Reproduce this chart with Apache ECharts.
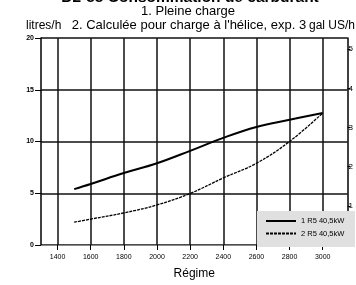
<!DOCTYPE html>
<html><head><meta charset="utf-8">
<script src="https://cdn.jsdelivr.net/npm/echarts@6/dist/echarts.min.js"></script>
<style>html,body{margin:0;padding:0;background:#fff}#c{width:356px;height:285px}</style>
</head><body><div id="c"></div>
<script>
const rpm = [1500, 1600, 1800, 2000, 2200, 2400, 2600, 2800, 3000];
const fullLoad = [5.4, 5.9, 6.95, 7.9, 9.1, 10.35, 11.4, 12.1, 12.75];
const propLoad = [2.2, 2.5, 3.1, 3.87, 4.98, 6.48, 7.9, 10.0, 12.75];
const seriesNames = ['1 R5 40,5kW', '2 R5 40,5kW'];
const xTicks = [1400, 1600, 1800, 2000, 2200, 2400, 2600, 2800, 3000];
const LPG = 3.785;
const font = 'Liberation Sans, Arial, sans-serif';
const chart = echarts.init(document.getElementById('c'), null, {renderer: 'canvas'});
chart.setOption({
  animation: false,
  grid: {left: 41, right: 1, top: 38, bottom: 37},
  graphic: [
    {type: 'text', x: 190, y: -10, style: {text: 'D2-55 Consommation de carburant', font: 'bold 15.5px ' + font, fill: '#000', align: 'center'}},
    {type: 'text', x: 188, y: 5, style: {text: '1. Pleine charge', font: '13px ' + font, fill: '#000', align: 'center'}},
    {type: 'text', x: 189, y: 19, style: {text: "2. Calculée pour charge à l'hélice, exp. 3", font: '13px ' + font, fill: '#000', align: 'center'}},
    {type: 'text', x: 26, y: 20, style: {text: 'litres/h', font: '12px ' + font, fill: '#000'}},
    {type: 'text', x: 309, y: 20, style: {text: 'gal US/h', font: '12px ' + font, fill: '#000'}},
    {type: 'rect', z: 3, shape: {x: 257, y: 211, width: 98, height: 36}, style: {fill: '#e0e0e0'}}
  ],
  legend: {
    orient: 'vertical', left: 265, top: 217, z: 5, padding: 0,
    itemWidth: 30, itemHeight: 8, itemGap: 4.5,
    itemStyle: {opacity: 0},
    textStyle: {fontSize: 7.5, fontFamily: font, color: '#000'},
    data: seriesNames
  },
  xAxis: {
    type: 'value', min: 1300, max: 3150, interval: 200,
    axisLine: {show: true, lineStyle: {color: '#888', width: 1}},
    axisTick: {show: true, length: 5, lineStyle: {color: '#000', width: 1}, customValues: xTicks},
    axisLabel: {fontSize: 7, fontFamily: font, color: '#000', margin: 9, customValues: xTicks,
      formatter: v => String(v)},
    splitLine: {show: true, lineStyle: {color: '#111', width: 1.5}},
    name: 'Régime', nameLocation: 'middle', nameGap: 23,
    nameTextStyle: {fontSize: 12, fontFamily: font, color: '#000'}
  },
  yAxis: [
    {
      type: 'value', min: 0, max: 20, interval: 5,
      axisLine: {show: true, lineStyle: {color: '#000', width: 1.5}},
      axisTick: {show: true, length: 6, lineStyle: {color: '#000', width: 1}},
      axisLabel: {fontSize: 7, fontWeight: 'bold', fontFamily: font, color: '#000', margin: 7},
      splitLine: {show: true, lineStyle: {color: '#111', width: 1.5}}
    },
    {
      type: 'value', min: 0, max: 20 / LPG, interval: 1, position: 'right',
      axisLine: {show: true, lineStyle: {color: '#000', width: 1.5}},
      axisTick: {show: true, length: 3, lineStyle: {color: '#000', width: 1}},
      axisLabel: {fontSize: 8, fontFamily: font, color: '#000', margin: 1, showMaxLabel: false},
      splitLine: {show: false}
    }
  ],
  series: [
    {name: seriesNames[0], type: 'line', smooth: 0.4, symbol: 'none', yAxisIndex: 0, z: 2,
     itemStyle: {color: '#000'},
     lineStyle: {color: '#000', width: 2, type: 'solid'},
     data: rpm.map((r, i) => [r, fullLoad[i]])},
    {name: seriesNames[1], type: 'line', smooth: 0.4, symbol: 'none', yAxisIndex: 0, z: 2,
     itemStyle: {color: '#000'},
     lineStyle: {color: '#000', width: 1.3, type: [3, 1]},
     data: rpm.map((r, i) => [r, propLoad[i]])}
  ]
});
</script></body></html>
